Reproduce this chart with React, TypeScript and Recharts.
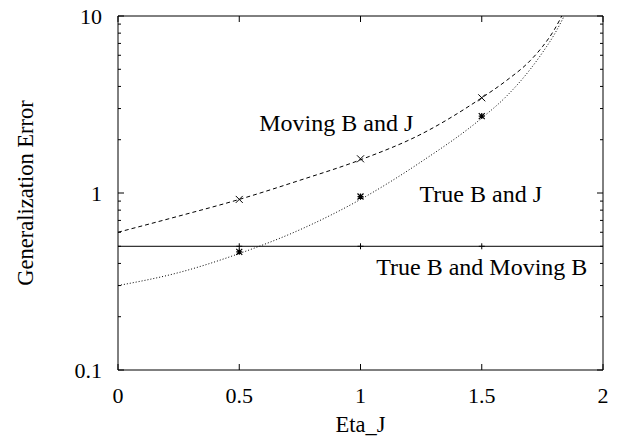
import React from 'react';
import { ComposedChart, Line, XAxis, YAxis, ReferenceArea, ReferenceDot, Label, Customized } from 'recharts';

// values (log y axis)
const etaMoving = [0, 0.25, 0.5, 0.75, 1, 1.25, 1.5, 1.6, 1.7, 1.75, 1.8, 1.83];
const errMoving = [0.6, 0.74, 0.92, 1.18, 1.54, 2.15, 3.45, 4.3, 5.6, 6.7, 8.4, 10];

const etaTrue = [0, 0.25, 0.5, 0.75, 1, 1.25, 1.5, 1.6, 1.7, 1.75, 1.8, 1.84];
const errTrue = [0.3, 0.355, 0.455, 0.62, 0.92, 1.5, 2.65, 3.5, 5.0, 6.2, 7.9, 10];

const etaFlat = [0, 2];
const errFlat = [0.5, 0.5];

// simulation points
const etaMarks = [0.5, 1, 1.5];
const movingMarks = [0.92, 1.56, 3.45];
const trueMarks = [0.465, 0.955, 2.72];
const bothMarks = [0.5, 0.5, 0.5];

const xTicks = [0, 0.5, 1, 1.5, 2];
const yTicks = [0.1, 0.2, 0.3, 0.4, 0.5, 0.6, 0.7, 0.8, 0.9, 1, 2, 3, 4, 5, 6, 7, 8, 9, 10];
const yMajor = [0.1, 1, 10];

const W = 619;
const H = 441;
const Y_AXIS_W = 118;
const X_AXIS_H = 71;
const MARGIN = { top: 16, right: 16, bottom: 0, left: 0 };
const PLOT_TOP = MARGIN.top;
const PLOT_RIGHT = W - MARGIN.right;
const PLOT_LEFT = MARGIN.left + Y_AXIS_W;
const PLOT_BOTTOM = H - MARGIN.bottom - X_AXIS_H;
const FONT = "'Liberation Serif', 'Times New Roman', Times, serif";
const tickStyle = { fontFamily: FONT, fontSize: 22, fill: '#000' };
const titleStyle = { fontFamily: FONT, fontSize: 22.5, fill: '#000' };
const noteStyle = { fontFamily: FONT, fontSize: 24, fill: '#000' };

const toPoints = (xs: number[], ys: number[]) => xs.map((x, i) => ({ x, y: ys[i] }));

const CrossMark = (props: any) => {
  const { cx, cy, index } = props;
  if (cx == null || cy == null) return null;
  const s = 3.5;
  return (
    <path key={`c-${index}`} d={`M${cx - s},${cy - s}L${cx + s},${cy + s}M${cx - s},${cy + s}L${cx + s},${cy - s}`} stroke="#000" strokeWidth={1} />
  );
};

const StarMark = (props: any) => {
  const { cx, cy, index } = props;
  if (cx == null || cy == null) return null;
  const s = 3;
  return (
    <path
      key={`s-${index}`}
      d={`M${cx - s},${cy - s}L${cx + s},${cy + s}M${cx - s},${cy + s}L${cx + s},${cy - s}M${cx - s},${cy}L${cx + s},${cy}M${cx},${cy - s}L${cx},${cy + s}`}
      stroke="#000"
      strokeWidth={1.2}
    />
  );
};

const PlusMark = (props: any) => {
  const { cx, cy, index } = props;
  if (cx == null || cy == null) return null;
  const s = 3;
  return <path key={`p-${index}`} d={`M${cx - s},${cy}L${cx + s},${cy}M${cx},${cy - s}L${cx},${cy + s}`} stroke="#000" strokeWidth={1} />;
};

const BottomTick = ({ x, y, payload }: any) => (
  <g>
    <line x1={x} y1={y} x2={x} y2={y - 6} stroke="#000" />
    <line x1={x} y1={PLOT_TOP} x2={x} y2={PLOT_TOP + 6} stroke="#000" />
    <text x={x} y={y + 33} textAnchor="middle" style={tickStyle}>
      {payload.value}
    </text>
  </g>
);

const LeftTick = ({ x, y, payload }: any) => {
  const major = yMajor.some((v) => Math.abs(v - payload.value) < 1e-9);
  const len = major ? 6 : 3;
  return (
    <g>
      <line x1={x} y1={y} x2={x + len} y2={y} stroke="#000" />
      <line x1={PLOT_RIGHT} y1={y} x2={PLOT_RIGHT - len} y2={y} stroke="#000" />
      {major && (
        <text x={x - 16} y={y + 8} textAnchor="end" style={tickStyle}>
          {payload.value}
        </text>
      )}
    </g>
  );
};

const AxisTitles = () => (
  <g>
    <text x={(PLOT_LEFT + PLOT_RIGHT) / 2} y={432} textAnchor="middle" style={titleStyle}>
      Eta_J
    </text>
    <text transform={`translate(33, ${(PLOT_TOP + PLOT_BOTTOM) / 2}) rotate(-90)`} textAnchor="middle" style={titleStyle}>
      Generalization Error
    </text>
  </g>
);

export default function App() {
  return (
    <div style={{ position: 'absolute', left: 0, top: 0, width: W, height: H, background: '#fff', fontFamily: FONT }}>
      <ComposedChart width={W} height={H} margin={MARGIN} style={{ fontFamily: FONT }}>
        <XAxis
          dataKey="x"
          type="number"
          domain={[0, 2]}
          ticks={xTicks}
          interval={0}
          height={X_AXIS_H}
          axisLine={false}
          tickLine={false}
          tickSize={0}
          tickMargin={0}
          tick={<BottomTick />}
        />
        <YAxis
          type="number"
          scale="log"
          domain={[0.1, 10]}
          ticks={yTicks}
          interval={0}
          width={Y_AXIS_W}
          axisLine={false}
          tickLine={false}
          tickSize={0}
          tickMargin={0}
          tick={<LeftTick />}
          allowDataOverflow
        />
        <Line data={toPoints(etaFlat, errFlat)} dataKey="y" stroke="#000" strokeWidth={1} dot={false} activeDot={false} isAnimationActive={false} />
        <Line data={toPoints(etaMoving, errMoving)} dataKey="y" type="monotone" stroke="#000" strokeWidth={1} strokeDasharray="4 3" dot={false} activeDot={false} isAnimationActive={false} />
        <Line data={toPoints(etaTrue, errTrue)} dataKey="y" type="monotone" stroke="#000" strokeWidth={1} strokeDasharray="1 2" dot={false} activeDot={false} isAnimationActive={false} />
        <Line data={toPoints(etaMarks, bothMarks)} dataKey="y" stroke="none" dot={PlusMark} activeDot={false} isAnimationActive={false} />
        <Line data={toPoints(etaMarks, movingMarks)} dataKey="y" stroke="none" dot={CrossMark} activeDot={false} isAnimationActive={false} />
        <Line data={toPoints(etaMarks, trueMarks)} dataKey="y" stroke="none" dot={StarMark} activeDot={false} isAnimationActive={false} />
        <ReferenceDot x={0.9} y={2.49} r={0} stroke="none" fill="none">
          <Label value="Moving B and J" position="center" style={noteStyle} />
        </ReferenceDot>
        <ReferenceDot x={1.496} y={0.99} r={0} stroke="none" fill="none">
          <Label value="True B and J" position="center" style={noteStyle} />
        </ReferenceDot>
        <ReferenceDot x={1.5} y={0.385} r={0} stroke="none" fill="none">
          <Label value="True B and Moving B" position="center" style={noteStyle} />
        </ReferenceDot>
        <ReferenceArea x1={0} x2={2} y1={0.1} y2={10} fill="none" stroke="#000" strokeWidth={1} fillOpacity={0} />
        <Customized component={AxisTitles} />
      </ComposedChart>
    </div>
  );
}
